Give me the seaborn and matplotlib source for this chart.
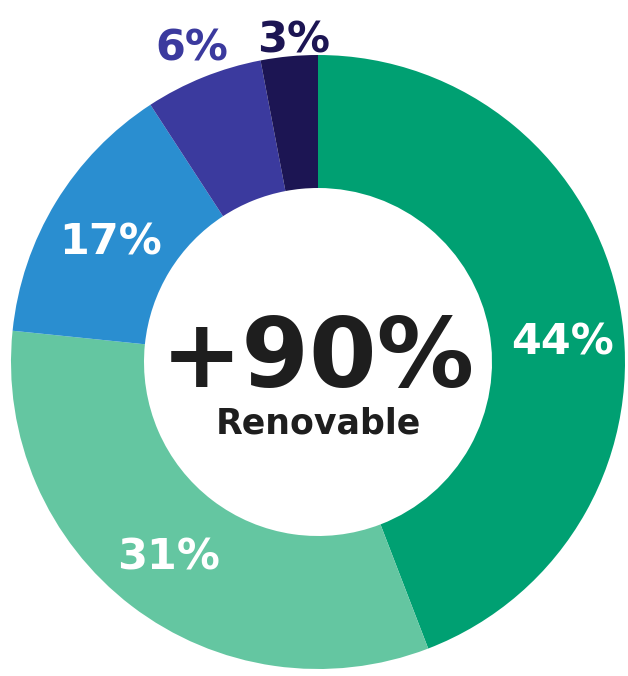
import numpy as np
import matplotlib
matplotlib.use("Agg")
import matplotlib.pyplot as plt
import seaborn as sns

# printed labels, clockwise from 12 o'clock
labels = ["44%", "31%", "17%", "6%", "3%"]
# slice sizes as drawn in the picture (they do not match the labels exactly)
slice_sizes = [44.2, 32.5, 14.2, 6.2, 3.0]
colors = ["#00A072", "#64C6A1", "#2A8ED0", "#3B3A9E", "#1C1553"]
label_colors = ["white", "white", "white", "#3B3A9E", "#1C1553"]

center_big = "+90%"
center_small = "Renovable"

sns.set_style("white")
plt.rcParams["font.family"] = ["DejaVu Sans"]

fig = plt.figure(figsize=(6.28, 6.76), dpi=100)
ax = fig.add_axes([0, 0, 1, 1])

cx, cy, R, r_in = 318, 314, 307, 174
wedges, _ = ax.pie(slice_sizes, colors=colors, startangle=90, counterclock=False,
                   radius=R, center=(cx, cy), frame=True,
                   wedgeprops=dict(width=R - r_in, linewidth=0))
ax.set_xlim(0, 628)
ax.set_ylim(0, 676)
ax.axis("off")

# label placement: angle nudge (deg) and radius factor per slice
nudge = [-6, 0, 1.5, 0, -1]
rad = [0.80, 0.80, 0.78, 1.10, 1.05]
for w, lab, lc, dn, rf in zip(wedges, labels, label_colors, nudge, rad):
    mid = np.deg2rad((w.theta1 + w.theta2) / 2 + dn)
    ax.text(cx + rf * R * np.cos(mid), cy + rf * R * np.sin(mid), lab,
            color=lc, fontsize=31, fontweight="bold",
            ha="center", va="center")

ax.text(cx, cy + 2, center_big, fontsize=70, fontweight="bold",
        color="#1E1E1E", ha="center", va="center")
ax.text(cx, cy - 62, center_small, fontsize=25, fontweight="bold",
        color="#1E1E1E", ha="center", va="center")

fig.savefig("out.png", dpi=100)
